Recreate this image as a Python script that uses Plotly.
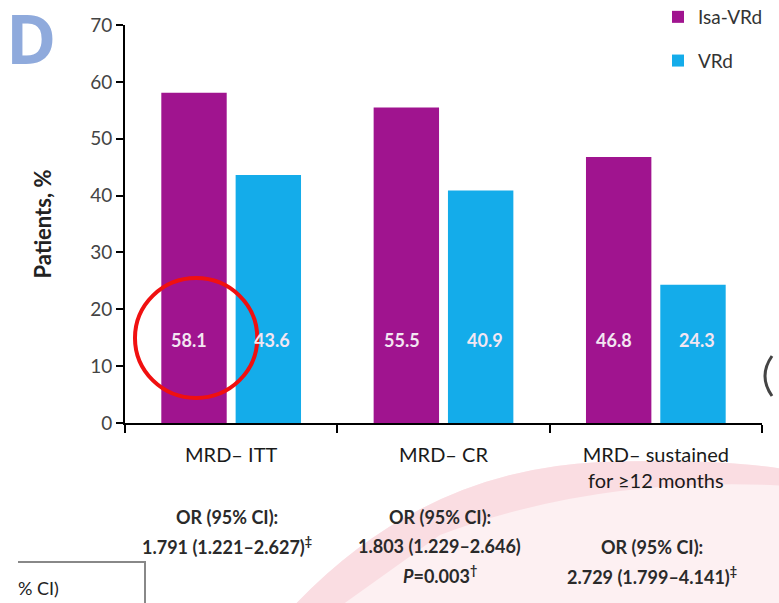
import plotly.graph_objects as go

categories = ["MRD– ITT", "MRD– CR", "MRD– sustained<br>for ≥12 months"]
isa_vrd = [58.1, 55.5, 46.8]
vrd = [43.6, 40.9, 24.3]
series_names = ["Isa-VRd", "VRd"]
or_lines = [
    ["OR (95% CI):", "1.791 (1.221–2.627)<sup>‡</sup>"],
    ["OR (95% CI):", "1.803 (1.229–2.646)", "<i>P</i>=0.003<sup>†</sup>"],
    ["OR (95% CI):", "2.729 (1.799–4.141)<sup>‡</sup>"],
]
y_ticks = [0, 10, 20, 30, 40, 50, 60, 70]

PURPLE = "#A0148F"
CYAN = "#14ACEA"
FONT = "Lato"

# plot-area geometry (pixels)
W, H = 779, 603
L, R, T, B = 125, 17, 25, 180
PW, PH = W - L - R, H - T - B


def px(xp):
    return (xp - L) / PW


def py(yp):
    return (H - B - yp) / PH


fig = go.Figure()
fig.add_trace(go.Bar(x=categories, y=isa_vrd, name=series_names[0],
                     marker=dict(color=PURPLE, line=dict(width=0)),
                     legendgroup="a"))
fig.add_trace(go.Bar(x=categories, y=vrd, name=series_names[1],
                     marker=dict(color=CYAN, line=dict(width=0)),
                     legendgroup="b"))

# value labels inside bars
for i, c in enumerate(categories):
    for vals, shift in ((isa_vrd, -42), (vrd, 41)):
        fig.add_annotation(x=c, y=14.6, xref="x", yref="y", xshift=shift,
                           text=f"<b>{vals[i]:.1f}</b>", showarrow=False,
                           font=dict(family=FONT, size=18, color="#F3E6F2"))

# OR annotations below the axis
or_start = [517, 517, 547]
for i, c in enumerate(categories):
    for j, line in enumerate(or_lines[i]):
        fig.add_annotation(x=c, y=py(or_start[i] + 29 * j), xref="x", yref="paper",
                           xshift=-4, yanchor="middle", xanchor="center",
                           text=f"<b>{line}</b>", showarrow=False,
                           font=dict(family=FONT, size=18, color="#2a2a2a"))

# panel letter
fig.add_annotation(x=px(31), y=py(37), xref="paper", yref="paper", showarrow=False,
                   xanchor="center", yanchor="middle",
                   text="<b>D</b>", font=dict(family="Open Sans", size=68, color="#8FAADC"))

# background decorations from the slide
bg_shapes = [
    dict(type="path", xref="paper", yref="paper", layer="below",
         path=f"M {px(290)} {py(610)} Q {px(420)} {py(470)} {px(600)} {py(462)} "
              f"Q {px(720)} {py(458)} {px(790)} {py(470)} L {px(790)} {py(610)} Z",
         fillcolor="#FDF0F2", line=dict(width=0)),
    dict(type="path", xref="paper", yref="paper", layer="below",
         path=f"M {px(290)} {py(610)} Q {px(420)} {py(470)} {px(600)} {py(462)} "
              f"Q {px(720)} {py(458)} {px(790)} {py(470)} L {px(790)} {py(486)} "
              f"Q {px(600)} {py(475)} {px(440)} {py(535)} L {px(335)} {py(610)} Z",
         fillcolor="#FADDE2", line=dict(width=0)),
    dict(type="path", xref="paper", yref="paper",
         path=f"M {px(18)} {py(562)} L {px(145)} {py(562)} L {px(145)} {py(610)}",
         line=dict(color="#888", width=2)),
    dict(type="path", xref="paper", yref="paper",
         path=f"M {px(772)} {py(356)} Q {px(758)} {py(376)} {px(772)} {py(396)}",
         line=dict(color="#444", width=3)),
]
for s in bg_shapes:
    fig.add_shape(**s)
fig.add_annotation(x=px(16), y=py(588), xref="paper", yref="paper",
                   xanchor="left", yanchor="middle",
                   showarrow=False, text="% CI)",
                   font=dict(family=FONT, size=18, color="#222"))

# highlight circle
fig.add_shape(type="circle", xref="x", yref="y", x0=-0.453, x1=0.123, y0=4.4, y1=25.5,
              line=dict(color="#F01010", width=4))

fig.update_layout(
    width=W, height=H,
    margin=dict(l=L, r=R, t=T, b=B, autoexpand=False),
    paper_bgcolor="white", plot_bgcolor="rgba(0,0,0,0)",
    barmode="group", bargap=0.3, bargroupgap=0.12,
    font=dict(family=FONT, color="#333"),
    legend=dict(x=px(658), y=py(-2), xanchor="left", yanchor="top",
                font=dict(family=FONT, size=19, color="#333"),
                tracegroupgap=16, itemwidth=30, bgcolor="rgba(0,0,0,0)"),
    xaxis=dict(showline=True, linecolor="black", linewidth=2, ticks="outside",
               tickson="boundaries", ticklen=8, tickcolor="black", tickwidth=2,
               tickfont=dict(family=FONT, size=20, color="#1a1a1a"),
               ticklabelstandoff=13, showgrid=False, automargin=False),
    yaxis=dict(range=[0, 70], tickvals=y_ticks, showline=True, linecolor="black",
               linewidth=2, ticks="outside", ticklen=7, tickcolor="black", tickwidth=2,
               tickfont=dict(family=FONT, size=19, color="#444"), showgrid=False,
               zeroline=False, automargin=False,
               title=dict(text="<b>Patients, %</b>", standoff=32,
                          font=dict(family=FONT, size=22, color="#222"))),
)

fig.write_html("out.html", config={"displayModeBar": False},
               post_script="document.body.style.margin='0';document.body.style.padding='0';")
